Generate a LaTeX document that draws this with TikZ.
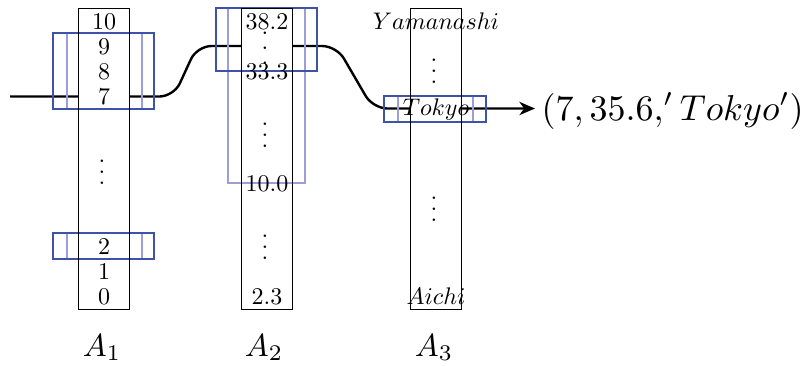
\documentclass[tikz,border=0pt]{standalone}
\usetikzlibrary{fit,arrows.meta}
\definecolor{boxdark}{RGB}{62,82,166}
\definecolor{boxlight}{RGB}{158,158,214}
% three stacked dots with a chosen spacing
\newcommand\colvdots[1]{\vbox{\baselineskip=#1\lineskiplimit=0pt\hbox{.}\hbox{.}\hbox{.}}}
\begin{document}
\begin{tikzpicture}[x=0.41667pt,y=-0.41667pt,
  colfill/.style={fill=white,inner sep=0pt},
  colline/.style={draw=black,line width=0.45pt},
  selbox/.style={draw=boxdark,line width=0.95pt,inner sep=0pt},
  scanbox/.style={draw=boxlight,line width=0.95pt,inner sep=0pt},
  entry/.style={inner sep=0pt,anchor=base},
  dots/.style={inner sep=0pt,anchor=center},
  flow/.style={line width=1pt,rounded corners=6pt},
  colname/.style={inner sep=0pt,anchor=base,scale=1.33},
  result/.style={inner sep=0pt,anchor=base west,scale=1.5}]
\useasboundingbox (0,0) rectangle (804,365);

% path of the tuple through the three columns
\coordinate (in) at (10,96.5);
\coordinate (b1) at (173.8,96.5);
\coordinate (b2) at (197,46);
\coordinate (b3) at (336.6,46);
\coordinate (b4) at (373,108.5);
\coordinate (tip) at (535,108.5);
\draw[flow,-{Stealth[length=6.5pt,width=5.5pt,inset=2pt]}] (in) -- (b1) -- (b2) -- (b3) -- (b4) -- (tip);

% column backgrounds
\node[colfill,fit={(79,9) (129,309)}] (A1) {};
\node[colfill,fit={(242,9) (292,309)}] (A2) {};
\node[colfill,fit={(411,9) (461,309)}] (A3) {};

% scanned ranges
\node[scanbox,fit={(67,33) (142,109)}] (r1) {};
\node[scanbox,fit={(67,233) (142,259)}] (r2) {};
\node[scanbox,fit={(228,8) (305,183)}] (r3) {};
\node[scanbox,fit={(398,96) (473,122)}] (r4) {};
% selected ranges
\node[selbox,fit={(53,33) (154,109)}] (s1) {};
\node[selbox,fit={(53,233) (154,259)}] (s2) {};
\node[selbox,fit={(216,8) (317,71)}] (s3) {};
\node[selbox,fit={(384,96) (486,122)}] (s4) {};

% column borders
\draw[colline] (A1.south west) rectangle (A1.north east);
\draw[colline] (A2.south west) rectangle (A2.north east);
\draw[colline] (A3.south west) rectangle (A3.north east);

% A1 values
\node[entry] (a10) at (104,29) {$10$};
\node[entry] (a9) at (104,54) {$9$};
\node[entry] (a8) at (104,79) {$8$};
\node[entry] (a7) at (104,104) {$7$};
\node[dots] (a1d) at (102,172) {\colvdots{4.6pt}};
\node[entry] (a2) at (104,254) {$2$};
\node[entry] (a1) at (104,279) {$1$};
\node[entry] (a0) at (104,304) {$0$};

% A2 values
\node[entry] (v382) at (267,29) {$38.2$};
\node[dots] (a2d1) at (265,48) {\colvdots{6.25pt}};
\node[entry] (v333) at (267,79) {$33.3$};
\node[dots] (a2d2) at (265,135) {\colvdots{4.6pt}};
\node[entry] (v100) at (267,191) {$10.0$};
\node[dots] (a2d3) at (265,247) {\colvdots{4.6pt}};
\node[entry] (v23) at (267,304) {$2.3$};

% A3 values
\node[entry] (yam) at (436,29) {$Yamanashi$};
\node[dots] (a3d1) at (434,71.5) {\colvdots{4.6pt}};
\node[entry] (tok) at (436,115) {$Tokyo$};
\node[dots] (a3d2) at (434,209) {\colvdots{4.6pt}};
\node[entry] (aic) at (436,304) {$Aichi$};

% column names
\node[colname] (n1) at (102,356) {$A_1$};
\node[colname] (n2) at (264,356) {$A_2$};
\node[colname] (n3) at (434,356) {$A_3$};

% output tuple
\node[result] (res) at (541,120) {$(7, 35.6,'Tokyo')$};
\end{tikzpicture}
\end{document}
